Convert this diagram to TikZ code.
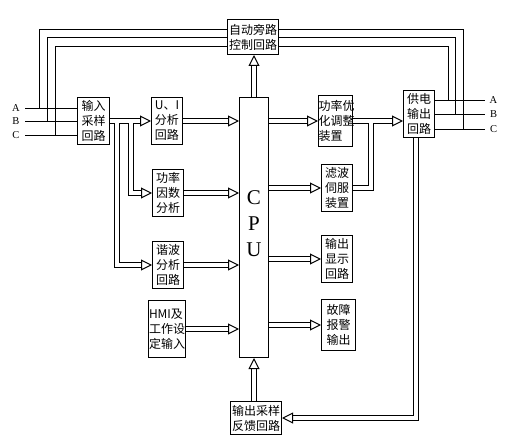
\documentclass[tikz,border=0pt]{standalone}
\usepackage{fontspec}
\setmainfont{Liberation Serif}
\newfontfamily\cjk{Noto Sans CJK SC}
\usetikzlibrary{arrows.meta}

\begin{document}
\begin{tikzpicture}
  [x=1pt,y=-1pt,line width=1pt,
   blk/.style={draw,inner sep=0pt,align=left,font=\cjk\fontsize{12}{15}\selectfont},
   pipe/.style={double,double distance=4pt},
   feed/.style={pipe,-{Triangle[length=11pt,width=11pt,fill=white,line width=1pt]}},
   phase/.style={font=\fontsize{10.5}{12}\selectfont}]
  \useasboundingbox (0,0) rectangle (509,444);
  % blocks
  \node[blk,minimum width=32pt,minimum height=47pt] (nin) at (93.5,121) {输入\\采样\\回路};
  \node[blk,minimum width=31pt,minimum height=47pt] (nui) at (167,121) {U、I\\分析\\回路};
  \node[blk,minimum width=31pt,minimum height=47pt] (npf) at (168,193) {功率\\因数\\分析};
  \node[blk,minimum width=31pt,minimum height=47pt] (nharm) at (168,265) {谐波\\分析\\回路};
  \node[blk,minimum width=37pt,minimum height=57pt] (nhmi) at (167,329) {HMI及\\工作设\\定输入};
  \node[draw,minimum width=29pt,minimum height=260pt] (ncpu) at (254,227.5) {};
  \node[font=\fontsize{21}{26}\selectfont,align=center] (tcpu) at (254,224) {C\\P\\U};
  \node[blk,minimum width=51pt,minimum height=35pt] (nbyp) at (253,37) {自动旁路\\控制回路};
  \node[blk,text width=34pt,minimum height=51pt] (nopt) at (335.5,121) {功率优\\化调整\\装置};
  \node[blk,minimum width=31pt,minimum height=47pt] (nfilt) at (337,188) {滤波\\伺服\\装置};
  \node[blk,minimum width=31pt,minimum height=47pt] (ndisp) at (337,259) {输出\\显示\\回路};
  \node[blk,minimum width=34pt,minimum height=51pt] (nalarm) at (338.5,325) {故障\\报警\\输出};
  \node[blk,minimum width=31pt,minimum height=47pt] (nout) at (419,114) {供电\\输出\\回路};
  \node[blk,minimum width=51pt,minimum height=33pt] (nfb) at (256,418) {输出采样\\反馈回路};

  % three-phase input and output
  \coordinate (ia) at (25,108.5);
  \coordinate (ib) at (25,121.5);
  \coordinate (ic) at (25,135.5);
  \node[phase] (ta) at (16,108.5) {A};
  \node[phase] (tb) at (16,121.5) {B};
  \node[phase] (tc) at (16,135.5) {C};
  \foreach \from in {ia,ib,ic}
    \draw (\from) -- (\from -| nin.west);
  \coordinate (oa) at (485,100.5);
  \coordinate (ob) at (485,114.5);
  \coordinate (oc) at (485,129.5);
  \node[phase] (ua) at (493.5,100.5) {A};
  \node[phase] (ub) at (493.5,114.5) {B};
  \node[phase] (uc) at (493.5,129.5) {C};
  \foreach \to in {oa,ob,oc}
    \draw (nout.east |- \to) -- (\to);

  % bypass wiring
  \coordinate (la) at (39.5,108.5);
  \coordinate (lb) at (47.5,121.5);
  \coordinate (lc) at (55.5,135.5);
  \coordinate (ra) at (448.5,100.5);
  \coordinate (rb) at (455.5,114.5);
  \coordinate (rc) at (463.5,129.5);
  \foreach \y/\to in {29.5/la,37.5/lb,46.5/lc}
    \draw (nbyp.west |- 0,\y) -| (\to);
  \foreach \y/\to in {46.5/ra,37.5/rb,29.5/rc}
    \draw (nbyp.east |- 0,\y) -| (\to);

  % signal paths
  \draw[feed] (nin) -- (nui);
  \coordinate (jh) at (117,123);
  \coordinate (jp) at (131,123);
  \draw[feed] (jh) |- (nharm);
  \draw[feed] (jp) |- (npf);
  \foreach \from in {nui,npf,nharm,nhmi}
    \draw[feed] (\from) -- (\from -| ncpu.west);
  \foreach \to in {nopt,nfilt,ndisp,nalarm}
    \draw[feed] (ncpu.east |- \to) -- (\to);
  \draw[feed] (nopt) -- (nopt -| nout.west);
  \coordinate (jf) at (371,123);
  \draw[pipe] (nfilt) -| (jf);
  \draw[feed] ([xshift=-3pt]nout.south) |- (nfb);
  \draw[feed] (nfb.north -| ncpu.south) -- (ncpu.south);
  \draw[feed] (ncpu.north) -- (ncpu.north |- nbyp.south);
\end{tikzpicture}
\end{document}
